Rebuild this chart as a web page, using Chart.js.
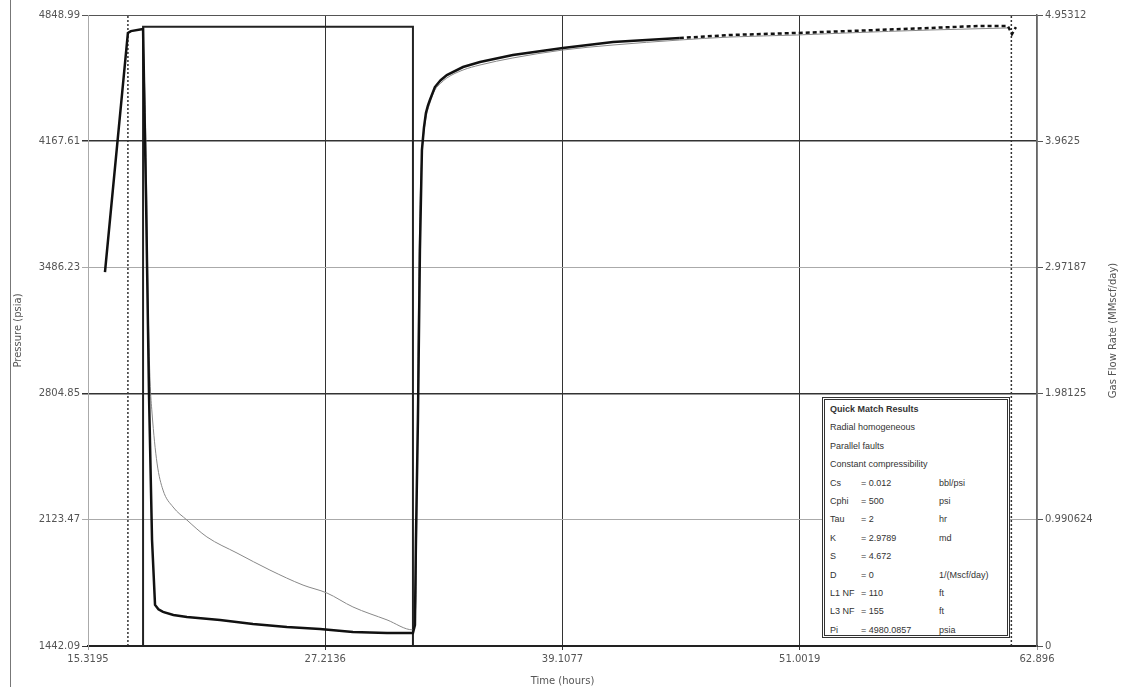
<!DOCTYPE html>
<html>
<head>
<meta charset="utf-8">
<script src="https://cdn.jsdelivr.net/npm/chart.js@4"></script>
<style>
  html, body { margin: 0; padding: 0; background: #fff; }
  #wrap { position: relative; width: 1129px; height: 687px; }
  #results {
    position: absolute; left: 822px; top: 397px; width: 182px; height: 235px;
    border: 3px double #333; background: #fff;
    font: 9px "Liberation Sans", Arial, sans-serif; color: #333;
  }
  #results div { height: 18.4px; line-height: 18.4px; padding-left: 5px; white-space: nowrap; }
  #results span { display: inline-block; }
  #results .k { width: 31px; }
  #results .v { width: 78px; }
</style>
</head>
<body>
<div id="wrap">
  <canvas id="chart" width="1129" height="687"></canvas>
  <div id="results">
    <div><b>Quick Match Results</b></div>
    <div>Radial homogeneous</div>
    <div>Parallel faults</div>
    <div>Constant compressibility</div>
    <div><span class="k">Cs</span><span class="v">= 0.012</span>bbl/psi</div>
    <div><span class="k">Cphi</span><span class="v">= 500</span>psi</div>
    <div><span class="k">Tau</span><span class="v">= 2</span>hr</div>
    <div><span class="k">K</span><span class="v">= 2.9789</span>md</div>
    <div><span class="k">S</span><span class="v">= 4.672</span></div>
    <div><span class="k">D</span><span class="v">= 0</span>1/(Mscf/day)</div>
    <div><span class="k">L1 NF</span><span class="v">= 110</span>ft</div>
    <div><span class="k">L3 NF</span><span class="v">= 155</span>ft</div>
    <div><span class="k">Pi</span><span class="v">= 4980.0857</span>psia</div>
  </div>
</div>
<script>
// measured pressure (psia) vs time (hours)
const measTime = [16.17, 17.32, 17.47, 18.08, 18.23, 18.38, 18.53, 18.68, 18.85, 19.08, 19.6, 20.28, 21.94, 23.59,
  25.29, 26.95, 28.60, 30.31, 31.61, 31.71, 31.76, 31.86, 31.96, 32.06, 32.16, 32.26, 32.36, 32.46, 32.71, 33.0, 33.31,
  34.12, 34.97, 36.62, 39.13, 41.64, 44.99, 47.50, 50.86, 53.37, 57.53, 60.03, 61.43, 61.64, 61.84];
const measPressure = [3461, 4752, 4762, 4773, 3850, 2786, 2014, 1664, 1640, 1626, 1610, 1599, 1583, 1561,
  1545, 1534, 1518, 1512, 1512, 1555, 2014, 2662, 3580, 4120, 4240, 4320, 4360, 4390, 4460, 4497, 4525,
  4568, 4595, 4633, 4671, 4703, 4725, 4741, 4752, 4762, 4779, 4790, 4790, 4746, 4784];

// simulated (quick match) pressure
const simTime = [18.08, 18.23, 18.33, 18.43, 18.53, 18.78, 19.08, 19.58, 20.28, 21.28, 22.79, 24.44,
  26.10, 27.30, 28.60, 30.31, 31.61, 31.76, 31.86, 31.96, 32.06, 32.16, 32.26, 32.46, 32.71, 33.0, 33.31, 34.12,
  34.97, 36.62, 39.13, 41.64, 44.99, 47.50, 50.86, 53.37, 57.53, 61.43];
const simPressure = [4773, 4120, 3310, 2878, 2700, 2430, 2284, 2193, 2122, 2031, 1944, 1852,
  1771, 1728, 1653, 1583, 1529, 1690, 3040, 3796, 4093, 4215, 4293, 4374, 4444, 4480, 4509, 4552,
  4579, 4617, 4660, 4687, 4714, 4730, 4741, 4752, 4768, 4779];

// gas flow rate (MMscf/day)
const rateTime = [17.32, 18.08, 18.08, 31.61, 31.61, 61.61];
const rate = [0, 0, 4.86, 4.86, 0, 0];

// dotted analysis limits
const markerTime = [17.32, 61.61];

const xTickValues = [15.3195, 27.2136, 39.1077, 51.0019, 62.896];
const xTickLabels = ["15.3195", "27.2136", "39.1077", "51.0019", "62.896"];
const pTicks = [1442.09, 2123.47, 2804.85, 3486.23, 4167.61, 4848.99];
const pTickLabels = ["1442.09", "2123.47", "2804.85", "3486.23", "4167.61", "4848.99"];
const qTicks = [0, 0.990624, 1.98125, 2.97187, 3.9625, 4.95312];
const qTickLabels = ["0", "0.990624", "1.98125", "2.97187", "3.9625", "4.95312"];

const tickFont = { family: "DejaVu Sans", size: 10 };

const extras = {
  id: "extras",
  afterDraw(chart) {
    const ctx = chart.ctx;
    ctx.save();
    ctx.strokeStyle = "#777";
    ctx.lineWidth = 1;
    ctx.beginPath();
    ctx.moveTo(10.5, 0);
    ctx.lineTo(10.5, 687);
    ctx.stroke();
    ctx.fillStyle = "#555";
    ctx.font = "10px 'DejaVu Sans'";
    ctx.textAlign = "center";
    ctx.textBaseline = "middle";
    ctx.translate(1113, (chart.chartArea.top + chart.chartArea.bottom) / 2);
    ctx.rotate(-Math.PI / 2);
    ctx.fillText("Gas Flow Rate (MMscf/day)", 0, 0);
    ctx.restore();
  }
};

const datasets = [
  {
    label: "Measured",
    data: measTime.map((t, i) => ({ x: t, y: measPressure[i] })),
    borderColor: "#111", borderWidth: 2.5, pointRadius: 0, tension: 0,
    segment: { borderDash: c => c.p0.parsed.x >= 44 ? [4, 3] : undefined },
    yAxisID: "y"
  },
  {
    label: "Simulated",
    data: simTime.map((t, i) => ({ x: t, y: simPressure[i] })),
    borderColor: "#888", borderWidth: 1, pointRadius: 0,
    cubicInterpolationMode: "monotone",
    yAxisID: "y"
  },
  {
    label: "Rate",
    data: rateTime.map((t, i) => ({ x: t, y: rate[i] })),
    borderColor: "#222", borderWidth: 2, pointRadius: 0, tension: 0,
    yAxisID: "y1"
  }
];
markerTime.forEach(t => {
  datasets.push({
    label: "limit",
    data: [{ x: t, y: pTicks[0] }, { x: t, y: pTicks[pTicks.length - 1] }],
    borderColor: "#333", borderWidth: 1.5, borderDash: [2, 2], pointRadius: 0,
    yAxisID: "y"
  });
});

new Chart(document.getElementById("chart"), {
  type: "line",
  data: { datasets },
  plugins: [extras],
  options: {
    responsive: false,
    animation: false,
    layout: { padding: { top: 15 } },
    plugins: { legend: { display: false }, tooltip: { enabled: false } },
    scales: {
      x: {
        type: "linear",
        min: xTickValues[0],
        max: xTickValues[xTickValues.length - 1],
        afterBuildTicks: s => { s.ticks = xTickValues.map(v => ({ value: v })); },
        afterFit: s => { s.height = 41; },
        ticks: {
          callback: (v, i) => xTickLabels[i],
          font: tickFont, color: "#555", padding: 3, maxRotation: 0, autoSkip: false
        },
        grid: {
          color: c => (c.index >= 1 && c.index <= 3) ? "#333" : "#999",
          lineWidth: 1, tickLength: 4
        },
        border: { color: "#222", width: 2 },
        title: { display: true, text: "Time (hours)", color: "#555", font: tickFont, padding: 0 }
      },
      y: {
        position: "left",
        min: pTicks[0],
        max: pTicks[pTicks.length - 1],
        afterBuildTicks: s => { s.ticks = pTicks.map(v => ({ value: v })); },
        afterFit: s => { s.width = 88; },
        ticks: {
          callback: (v, i) => pTickLabels[i],
          font: tickFont, color: "#555", padding: 2, autoSkip: false
        },
        grid: {
          color: c => [ "#333", "#aaa", "#333", "#aaa", "#333", "#555" ][c.index] || "#999",
          lineWidth: c => (c.index === 2 || c.index === 4) ? 1.5 : 1,
          tickLength: 6
        },
        border: { color: "#aaa" },
        title: { display: true, text: "Pressure (psia)", color: "#555", font: tickFont, padding: { top: 12, bottom: 0 } }
      },
      y1: {
        position: "right",
        min: qTicks[0],
        max: qTicks[qTicks.length - 1],
        afterBuildTicks: s => { s.ticks = qTicks.map(v => ({ value: v })); },
        afterFit: s => { s.width = 92; },
        ticks: {
          callback: (v, i) => qTickLabels[i],
          font: tickFont, color: "#555", padding: 2, autoSkip: false
        },
        grid: { drawOnChartArea: false, color: "#555", tickLength: 6 },
        border: { color: "#666", width: 1.5 }
      }
    }
  }
});
</script>
</body>
</html>
